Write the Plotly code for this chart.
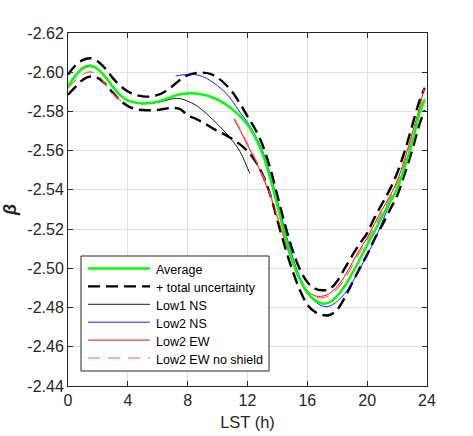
import plotly.graph_objects as go

# ---------------- data ----------------
hours = [0, 0.5, 1, 1.5, 2, 2.5, 3, 3.5, 4, 4.5, 5, 5.5, 6, 6.5, 7, 7.5, 8, 8.5, 9, 9.5,
         10, 10.5, 11, 11.5, 12, 12.5, 13, 13.5, 14, 14.5, 15, 15.5, 16, 16.5, 17, 17.5,
         18, 18.5, 19, 19.5, 20, 20.5, 21, 21.5, 22, 22.5, 23, 23.5, 23.85]

average = [-2.5926, -2.5982, -2.6020, -2.6032, -2.6015, -2.5975, -2.5925, -2.5882, -2.5857, -2.5845,
           -2.5841, -2.5843, -2.5850, -2.5862, -2.5877, -2.5888, -2.5892, -2.5891, -2.5886, -2.5876,
           -2.5860, -2.5838, -2.5810, -2.5776, -2.5733, -2.5670, -2.5585, -2.5465, -2.5320, -2.5170,
           -2.5040, -2.4945, -2.4875, -2.4838, -2.4820, -2.4828, -2.4860, -2.4910, -2.4975, -2.5045,
           -2.5120, -2.5190, -2.5265, -2.5335, -2.5405, -2.5515, -2.5640, -2.5790, -2.5862]

unc_upper = [-2.5988, -2.6035, -2.6063, -2.6071, -2.6055, -2.6018, -2.5970, -2.5930, -2.5902, -2.5885,
             -2.5877, -2.5876, -2.5884, -2.5902, -2.5930, -2.5962, -2.5985, -2.5995, -2.5998, -2.5992,
             -2.5972, -2.5940, -2.5898, -2.5840, -2.5775, -2.5712, -2.5630, -2.5515, -2.5370, -2.5225,
             -2.5095, -2.4995, -2.4930, -2.4897, -2.4888, -2.4895, -2.4935, -2.5000, -2.5065, -2.5125,
             -2.5180, -2.5260, -2.5330, -2.5400, -2.5485, -2.5595, -2.5725, -2.5855, -2.5920]

unc_lower = [-2.5885, -2.5925, -2.5962, -2.5978, -2.5970, -2.5940, -2.5895, -2.5855, -2.5828, -2.5812,
             -2.5807, -2.5806, -2.5808, -2.5814, -2.5818, -2.5812, -2.5780, -2.5764, -2.5745, -2.5722,
             -2.5700, -2.5682, -2.5658, -2.5632, -2.5598, -2.5550, -2.5480, -2.5380, -2.5245, -2.5110,
             -2.4990, -2.4890, -2.4815, -2.4778, -2.4762, -2.4762, -2.4790, -2.4850, -2.4925, -2.5000,
             -2.5070, -2.5150, -2.5220, -2.5295, -2.5370, -2.5480, -2.5600, -2.5735, -2.5807]

low1_ns_h = [0, 0.5, 1, 1.5, 2, 2.5, 3, 3.5, 4, 4.5, 5, 5.5, 6, 6.5, 7, 7.5, 8, 8.5, 9, 9.5,
             10, 10.5, 11, 11.5, 12.15]
low1_ns = [-2.5930, -2.5987, -2.6025, -2.6036, -2.6018, -2.5977, -2.5926, -2.5882, -2.5856, -2.5844,
           -2.5840, -2.5841, -2.5846, -2.5855, -2.5865, -2.5866, -2.5852, -2.5834, -2.5806, -2.5772,
           -2.5735, -2.5695, -2.5650, -2.5595, -2.5484]

low2_ns_h = [7.2, 7.5, 8, 8.5, 9, 9.5, 10, 10.5, 11, 11.5,
             12, 12.5, 13, 13.5, 14, 14.5, 15, 15.5, 16, 16.5,
             17, 17.5, 18, 18.5, 19, 19.5, 20, 20.5, 21, 21.5,
             22, 22.5, 23, 23.5, 23.85]
low2_ns = [-2.5980, -2.5985, -2.5988, -2.5988, -2.5978, -2.5958, -2.5930, -2.5898, -2.5852, -2.5795,
           -2.5745, -2.5680, -2.5600, -2.5485, -2.5345, -2.5195, -2.5062, -2.4955, -2.4880, -2.4832,
           -2.4808, -2.4808, -2.4832, -2.4872, -2.4928, -2.4995, -2.5068, -2.5145, -2.5235, -2.5328,
           -2.5408, -2.5517, -2.5642, -2.5790, -2.5862]

low2_ew_h = [11.1, 11.5, 12, 12.5, 13, 13.5, 14, 14.5, 15, 15.5, 16, 16.5,
             17, 17.5, 18, 18.5, 19, 19.5, 20, 20.5, 21, 21.5, 22, 22.5, 23, 23.5, 23.82]
low2_ew = [-2.5760, -2.5705, -2.5628, -2.5555, -2.5470, -2.5375, -2.5260, -2.5140, -2.5028, -2.4940,
           -2.4885, -2.4860, -2.4858, -2.4872, -2.4908, -2.4960, -2.5028, -2.5095, -2.5155, -2.5228,
           -2.5300, -2.5365, -2.5445, -2.5555, -2.5685, -2.5820, -2.5923]

low2_ew_noshield_h = [0, 0.5, 1, 1.5, 2, 2.5, 3, 3.6, None,
                      11.1, 11.5, 12, 12.5, 13, 13.5, 14, 14.5, 15, 15.5, 16, 16.5,
                      17, 17.5, 18, 18.5, 19, 19.5, 20, 20.5, 21, 21.5, 22, 22.5, 23, 23.5, 23.82]
low2_ew_noshield = [-2.5918, -2.5958, -2.5990, -2.6002, -2.5988, -2.5937, -2.5890, -2.5850, None,
                    -2.5765, -2.5712, -2.5636, -2.5562, -2.5478, -2.5382, -2.5265, -2.5145, -2.5033, -2.4943,
                    -2.4884, -2.4855, -2.4850, -2.4862, -2.4895, -2.4945, -2.5012, -2.5080, -2.5142, -2.5212,
                    -2.5285, -2.5352, -2.5432, -2.5542, -2.5672, -2.5808, -2.5912]

x_ticks = [0, 4, 8, 12, 16, 20, 24]
x_tick_labels = ["0", "4", "8", "12", "16", "20", "24"]
y_ticks = [-2.62, -2.60, -2.58, -2.56, -2.54, -2.52, -2.50, -2.48, -2.46, -2.44]
y_tick_labels = ["-2.62", "-2.60", "-2.58", "-2.56", "-2.54", "-2.52", "-2.50", "-2.48", "-2.46", "-2.44"]

legend_labels = ["Average", "+ total uncertainty", "Low1 NS", "Low2 NS", "Low2 EW", "Low2 EW no shield"]

# ---------------- styles ----------------
W, H = 473, 436
ML, MR, MT, MB = 68, 46, 33, 50
FONT = "Liberation Sans, Arial, Helvetica, sans-serif"
AX = "#262626"

st_avg = dict(color="#00ff00", width=2.5)
st_unc = dict(color="#000000", width=2.4, dash="12px,6px")
st_l1 = dict(color="#000000", width=0.9)
st_l2ns = dict(color="#0000ff", width=0.9)
st_l2ew = dict(color="#ff0000", width=1.0)
st_l2ewns = dict(color="#ff6060", width=1.1, dash="12px,8px")
styles = [st_avg, st_unc, st_l1, st_l2ns, st_l2ew, st_l2ewns]

fig = go.Figure()
sp = dict(mode="lines", line_shape="spline", showlegend=False, hoverinfo="skip")
fig.add_trace(go.Scatter(x=hours, y=unc_upper, line=st_unc, name=legend_labels[1], **sp))
fig.add_trace(go.Scatter(x=hours, y=unc_lower, line=st_unc, name=legend_labels[1], **sp))
fig.add_trace(go.Scatter(x=low1_ns_h, y=low1_ns, line=st_l1, name=legend_labels[2], **sp))
fig.add_trace(go.Scatter(x=low2_ns_h, y=low2_ns, line=st_l2ns, name=legend_labels[3], **sp))
fig.add_trace(go.Scatter(x=low2_ew_h, y=low2_ew, line=st_l2ew, name=legend_labels[4], **sp))
fig.add_trace(go.Scatter(x=low2_ew_noshield_h, y=low2_ew_noshield, line=st_l2ewns,
                         name=legend_labels[5], **sp))
fig.add_trace(go.Scatter(x=hours, y=average, line=st_avg, name=legend_labels[0], **sp))

# ---------------- custom MATLAB-like legend ----------------
pw, ph = W - ML - MR, H - MT - MB


def xp(px):
    return (px - ML) / pw


def yp(py):
    return (H - MB - py) / ph


shapes = [dict(type="rect", xref="paper", yref="paper",
               x0=xp(81), x1=xp(269), y0=yp(371), y1=yp(256),
               line=dict(color=AX, width=1), fillcolor="white", layer="above")]
annotations = []
for i, (lab, stl) in enumerate(zip(legend_labels, styles)):
    ly = 268.5 + 17.9 * i
    shapes.append(dict(type="line", xref="paper", yref="paper",
                       x0=xp(88), x1=xp(150), y0=yp(ly), y1=yp(ly),
                       line=stl, layer="above"))
    annotations.append(dict(xref="paper", yref="paper", x=xp(154), y=yp(ly + 1.5),
                            text=lab, showarrow=False, xanchor="left", yanchor="middle",
                            font=dict(family=FONT, size=12.5, color="#000000")))

axis_common = dict(showline=True, linecolor=AX, linewidth=1, mirror="ticks",
                   ticks="inside", ticklen=5, tickcolor=AX, showgrid=True,
                   gridcolor="#e1e1e1", gridwidth=1, zeroline=False, automargin=False,
                   tickfont=dict(family=FONT, size=16, color=AX))

fig.update_layout(
    width=W, height=H, margin=dict(l=ML, r=MR, t=MT, b=MB, autoexpand=False),
    paper_bgcolor="white", plot_bgcolor="white",
    font=dict(family=FONT, color=AX),
    shapes=shapes, annotations=annotations, showlegend=False,
    xaxis=dict(range=[0, 24], tickvals=x_ticks, ticktext=x_tick_labels,
               title=dict(text="LST (h)", font=dict(family=FONT, size=16.5, color=AX), standoff=8),
               **axis_common),
    yaxis=dict(range=[-2.44, -2.62], tickvals=y_ticks, ticktext=y_tick_labels,
               title=dict(text="<b><i>β</i></b>", font=dict(family=FONT, size=18, color=AX), standoff=10),
               **axis_common),
)

fig.write_html("out.html")
